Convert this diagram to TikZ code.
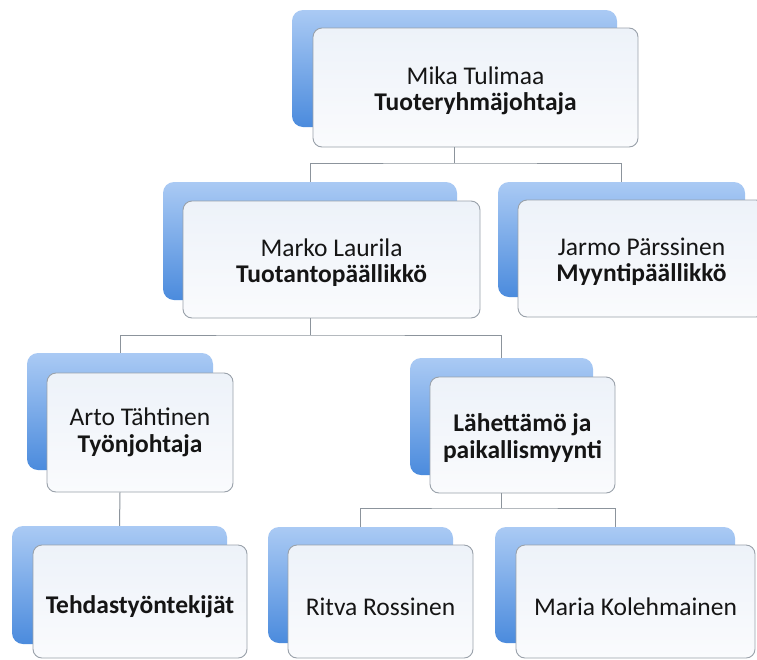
\documentclass[tikz,border=0pt]{standalone}
\usepackage{fontspec}
\setmainfont{Carlito}
\definecolor{backtop}{HTML}{AACAF4}
\definecolor{backbot}{HTML}{4B8BDD}
\definecolor{fronttop}{HTML}{EDF2F9}
\definecolor{frontbot}{HTML}{FAFBFD}
\definecolor{edgegray}{HTML}{99A1AA}
\definecolor{conngray}{HTML}{8C949C}
\definecolor{txt}{HTML}{151515}
\newcommand{\toppad}{\rule{0pt}{24pt}}
\newcommand{\lowpad}{\rule{0pt}{28pt}}
\tikzset{
  backbox/.style={rounded corners=11pt, top color=backtop, bottom color=backbot, draw=none, inner sep=0pt},
  frontbox/.style={rounded corners=9pt, top color=fronttop, bottom color=frontbot, draw=edgegray, line width=0.9pt,
     inner sep=0pt, align=center, text=txt, font=\fontsize{25.5}{26.5}\selectfont},
  conn/.style={draw=conngray, line width=1pt}
}
\begin{document}
\begin{tikzpicture}[x=1pt,y=-1pt]
\useasboundingbox (0,0) rectangle (757,659);
\clip (0,0) rectangle (757,659);
\fill[white] (0,0) rectangle (757,659);

% back boxes
\node[backbox, minimum width=325pt, minimum height=117pt] (topB) at (454.5,68.5) {};
\node[backbox, minimum width=294pt, minimum height=118pt] (markoB) at (310,241) {};
\node[backbox, minimum width=247pt, minimum height=115pt] (jarmoB) at (621.5,239.5) {};
\node[backbox, minimum width=186pt, minimum height=117pt] (artoB) at (120,411.5) {};
\node[backbox, minimum width=183pt, minimum height=117pt] (lahB) at (501.5,416.5) {};
\node[backbox, minimum width=215pt, minimum height=118pt] (tehB) at (119.5,585) {};
\node[backbox, minimum width=185pt, minimum height=116pt] (ritvaB) at (360.5,585) {};
\node[backbox, minimum width=240pt, minimum height=116pt] (mariaB) at (615,585) {};

% front boxes
\node[frontbox, minimum width=325pt, minimum height=119pt] (topF) at (475.5,87.5) {\toppad Mika Tulimaa\\\textbf{Tuoteryhmäjohtaja}};
\node[frontbox, minimum width=297pt, minimum height=117pt] (markoF) at (331.5,259.5) {\toppad Marko Laurila\\\textbf{Tuotantopäällikkö}};
\node[frontbox, minimum width=247pt, minimum height=117pt] (jarmoF) at (641.5,258.5) {\toppad Jarmo Pärssinen\\\textbf{Myyntipäällikkö}};
\node[frontbox, minimum width=186pt, minimum height=119pt] (artoF) at (140,432.5) {Arto Tähtinen\\\textbf{Työnjohtaja}};
\node[frontbox, minimum width=185pt, minimum height=116pt] (lahF) at (522.5,435) {\toppad\textbf{Lähettämö ja}\\\textbf{paikallismyynti}};
\node[frontbox, minimum width=214pt, minimum height=113pt] (tehF) at (140,601.5) {\lowpad\textbf{Tehdastyöntekijät}};
\node[frontbox, minimum width=185pt, minimum height=113pt] (ritvaF) at (380.5,601.5) {\lowpad Ritva Rossinen};
\node[frontbox, minimum width=239pt, minimum height=113pt] (mariaF) at (635.5,601.5) {\lowpad Maria Kolehmainen};

% connectors
\coordinate (bus1) at (454.5,163);
\coordinate (bus2) at (310,335);
\coordinate (bus3) at (501.5,508);
\draw[conn] (topF.south -| topB.center) -- (bus1);
\draw[conn] (markoB.north) |- (bus1) -| (jarmoB.north);
\draw[conn] (markoF.south -| markoB.center) -- (bus2);
\draw[conn] (artoB.north) |- (bus2) -| (lahB.north);
\draw[conn] (artoF.south -| artoB.center) -- (tehB.north);
\draw[conn] (lahF.south -| lahB.center) -- (bus3);
\draw[conn] (ritvaB.north) |- (bus3) -| (mariaB.north);
\end{tikzpicture}
\end{document}
